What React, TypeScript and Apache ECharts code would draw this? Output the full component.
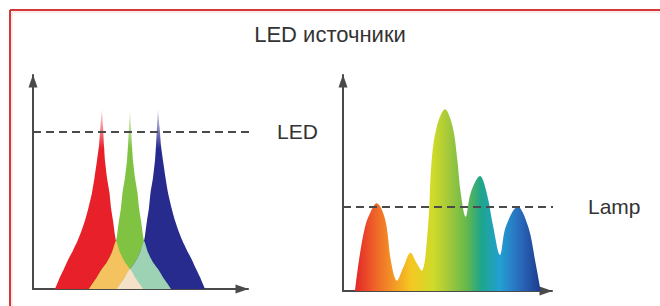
import React, { useEffect, useRef } from "react";
import * as echarts from "echarts";

const FONT = '"Liberation Sans", Arial, sans-serif';

const titleText = "LED источники";
const ledLabel = "LED";
const lampLabel = "Lamp";

// Left panel (LED): x in arbitrary wavelength units, y in relative intensity (0..100)
const redPeak: [number, number][] = [
  [22, 0], [24, 2.2], [27, 5.6], [31, 9.5], [35, 13.6], [40, 18], [45, 23], [48, 26.5], [52, 32],
  [55.5, 38], [59, 45], [61.5, 52], [64, 60], [66, 67], [67.5, 76], [69, 84], [70, 76], [71, 67],
  [72, 60], [74, 52], [76.5, 45], [78, 38], [80, 32], [82, 25], [83, 22.5], [87, 17], [92, 12.5],
  [97, 9.3], [102, 5.5], [106, 2.8], [110, 0],
];
const greenPeak: [number, number][] = [
  [56, 0], [60, 2.8], [64, 5.5], [69, 9.3], [74, 12.5], [79, 17], [83, 22.5], [84, 25], [86, 32],
  [88, 38], [89.5, 45], [92, 52], [94, 60], [95, 67], [96, 76], [97, 84], [98, 76], [99, 67],
  [100, 60], [102, 52], [104.5, 45], [106, 38], [108, 32], [110, 25], [111, 22.5], [115, 17],
  [120, 12.5], [125, 9.3], [130, 5.5], [134, 2.8], [138, 0],
];
const bluePeak: [number, number][] = [
  [84, 0], [88, 2.8], [92, 5.5], [97, 9.3], [102, 12.5], [107, 17], [111, 22.5], [112, 25], [114, 32],
  [116, 38], [117.5, 45], [120, 52], [122, 60], [123, 67], [124, 76], [125, 84], [126.5, 76], [128, 67],
  [130, 60], [132.5, 52], [135, 45], [138.5, 38], [142, 32], [146, 26.5], [149, 23], [154, 18],
  [159, 13.6], [163, 9.5], [167, 5.6], [170, 2.2], [172, 0],
];
const redGreenOverlap: [number, number][] = [
  [56, 0], [60, 2.8], [64, 5.5], [69, 9.3], [74, 12.5], [79, 17], [83, 22.5],
  [87, 17], [92, 12.5], [97, 9.3], [102, 5.5], [106, 2.8], [110, 0],
];
const greenBlueOverlap: [number, number][] = [
  [84, 0], [88, 2.8], [92, 5.5], [97, 9.3], [102, 12.5], [107, 17], [111, 22.5],
  [115, 17], [120, 12.5], [125, 9.3], [130, 5.5], [134, 2.8], [138, 0],
];
const tripleOverlap: [number, number][] = [
  [84, 0], [88, 2.8], [92, 5.5], [97, 9.3], [102, 5.5], [106, 2.8], [110, 0],
];
const ledLevelLine: [number, number][] = [[0, 73.4], [225, 73.4]];

// Right panel (Lamp)
const lampSpectrum: [number, number][] = [
  [12, 0], [16, 14.4], [22, 29.6], [27, 36], [33.7, 40.6], [39, 37.5], [43.7, 29.6], [47.7, 14.4],
  [54, 4.8], [60, 10.6], [67.7, 17.7], [73, 13.4], [78.7, 9.4], [85, 29.6], [88.7, 60.6],
  [93.7, 75.9], [102, 84.1], [109.7, 75.9], [114.3, 60.6], [117.7, 45.4], [122.7, 34.4],
  [127.7, 45.4], [137, 53.2], [143.7, 45.4], [150.3, 29.6], [157, 16.7], [162.7, 29.6],
  [174.7, 39], [185.3, 29.6], [192, 14.4], [197.7, 0],
];
const lampLevelLine: [number, number][] = [[0, 38.9], [224, 38.9]];

function fadeTip(color: string, pale: string) {
  return new echarts.graphic.LinearGradient(0, 0, 0, 1, [
    { offset: 0, color: pale },
    { offset: 0.22, color },
    { offset: 1, color },
  ]);
}

function area(data: [number, number][], color: any, idx: number, smooth: number) {
  return {
    type: "line",
    xAxisIndex: idx,
    yAxisIndex: idx,
    data,
    symbol: "none",
    showSymbol: false,
    smooth,
    lineStyle: { width: 0 },
    areaStyle: { color, opacity: 1 },
    silent: true,
  };
}

function dashed(data: [number, number][], idx: number, label: string, distance: number) {
  return {
    type: "line",
    xAxisIndex: idx,
    yAxisIndex: idx,
    data,
    symbol: "none",
    showSymbol: false,
    clip: false,
    lineStyle: { color: "#4a4a4a", width: 2, type: [8, 5] },
    endLabel: {
      show: true,
      formatter: label,
      distance,
      color: "#333",
      fontSize: 21,
      fontFamily: FONT,
    },
    silent: true,
    z: 5,
  };
}

function axisLine() {
  return {
    show: true,
    onZero: false,
    symbol: ["none", "triangle"],
    symbolSize: [9, 13],
    symbolOffset: [0, -6],
    lineStyle: { color: "#4a4a4a", width: 2 },
  };
}

export default function App() {
  const ref = useRef<HTMLDivElement>(null);
  useEffect(() => {
    const chart = echarts.init(ref.current!, null, { renderer: "svg" });
    const hidden = {
      axisTick: { show: false },
      axisLabel: { show: false },
      splitLine: { show: false },
      axisLine: axisLine(),
    };
    chart.setOption({
      animation: false,
      backgroundColor: "#ffffff",
      title: {
        text: titleText,
        left: "center",
        top: 18,
        textStyle: { fontSize: 22, fontWeight: "normal", color: "#333", fontFamily: FONT },
      },
      grid: [
        { left: 33, top: 75, width: 215, height: 214 },
        { left: 343, top: 75, width: 209, height: 216 },
      ],
      xAxis: [
        { gridIndex: 0, type: "value", min: 0, max: 215, ...hidden },
        { gridIndex: 1, type: "value", min: 0, max: 209, ...hidden },
      ],
      yAxis: [
        { gridIndex: 0, type: "value", min: 0, max: 100, ...hidden },
        { gridIndex: 1, type: "value", min: 0, max: 100, ...hidden },
      ],
      graphic: [
        { type: "line", shape: { x1: 10, y1: 10, x2: 660, y2: 10 }, style: { stroke: "#d23a3a", lineWidth: 2 } },
        { type: "line", shape: { x1: 10, y1: 10, x2: 10, y2: 306 }, style: { stroke: "#d23a3a", lineWidth: 2 } },
        { type: "line", shape: { x1: 12, y1: 12, x2: 660, y2: 12 }, style: { stroke: "#f6d6d6", lineWidth: 1 } },
        { type: "line", shape: { x1: 12, y1: 12, x2: 12, y2: 306 }, style: { stroke: "#f6d6d6", lineWidth: 1 } },
      ],
      series: [
        area(redPeak, fadeTip("#e8202a", "rgba(232,32,42,0.12)"), 0, 0.15),
        area(greenPeak, fadeTip("#80c241", "rgba(128,194,65,0.12)"), 0, 0.15),
        area(bluePeak, fadeTip("#272b8e", "rgba(39,43,142,0.12)"), 0, 0.15),
        area(redGreenOverlap, "#f4c35f", 0, 0.15),
        area(greenBlueOverlap, "#9ed2b4", 0, 0.15),
        area(tripleOverlap, "#f5e0c8", 0, 0.15),
        dashed(ledLevelLine, 0, ledLabel, 28),
        area(
          lampSpectrum,
          new echarts.graphic.LinearGradient(0, 0, 1, 0, [
            { offset: 0, color: "#e3262a" },
            { offset: 0.12, color: "#f06a28" },
            { offset: 0.3, color: "#f5c722" },
            { offset: 0.42, color: "#cfdb2a" },
            { offset: 0.5, color: "#a6c93a" },
            { offset: 0.6, color: "#66b94c" },
            { offset: 0.68, color: "#1ea58c" },
            { offset: 0.78, color: "#22a0d2" },
            { offset: 0.88, color: "#2a6fbf" },
            { offset: 1, color: "#1c3a8e" },
          ]),
          1,
          0.35
        ),
        dashed(lampLevelLine, 1, lampLabel, 35),
      ],
    });
    return () => chart.dispose();
  }, []);
  return (
    <div
      ref={ref}
      style={{ position: "fixed", left: 0, top: 0, width: 660, height: 306 }}
    />
  );
}
